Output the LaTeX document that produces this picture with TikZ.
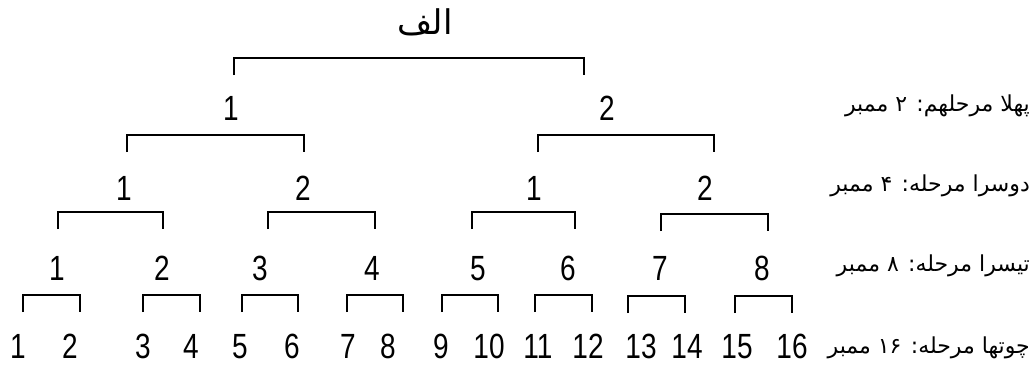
\documentclass[tikz,border=0pt]{standalone}
\usepackage{fontspec}
\TeXXeTstate=1
\newfontfamily\urdu[Script=Arabic]{DejaVu Sans}
\newfontfamily\digitfont[FakeStretch=0.8]{Liberation Sans}
\newcommand\brk[4]{%
  \coordinate (#1a) at (#2,#4+17);
  \coordinate (#1b) at (#3,#4+17);
  \draw[br] (#1a) -- ++(0,-17) -| (#1b);}
\begin{document}
\begin{tikzpicture}[x=1pt,y=-1pt,
  num/.style={font=\digitfont\fontsize{35}{35}\selectfont, inner sep=0pt, anchor=base},
  lab/.style={font=\urdu\fontsize{22}{26}\selectfont, inner sep=0pt, anchor=east},
  br/.style={line width=1.6pt}]
\useasboundingbox (0,0) rectangle (1034,375);
% title
\node[font=\urdu\fontsize{34}{36}\selectfont, inner sep=0pt] (root) at (425,22) {\beginR الف\endR};
\brk{t}{234}{584}{58}
% level 1
\node[num] (a1) at (231,120) {1};
\node[num] (a2) at (607,120) {2};
\brk{p1}{127}{304}{135}
\brk{p2}{538}{714}{135}
% level 2
\node[num] (b1) at (124,200) {1};
\node[num] (b2) at (303,200) {2};
\node[num] (b3) at (534,200) {1};
\node[num] (b4) at (705,200) {2};
\brk{q1}{58}{163}{212}
\brk{q2}{268}{375}{212}
\brk{q3}{472}{575}{212}
\brk{q4}{661}{768}{214}
% level 3
\node[num] (c1) at (57,280) {1};
\node[num] (c2) at (162,280) {2};
\node[num] (c3) at (260,280) {3};
\node[num] (c4) at (372,280) {4};
\node[num] (c5) at (478,280) {5};
\node[num] (c6) at (568,280) {6};
\node[num] (c7) at (660,280) {7};
\node[num] (c8) at (762,280) {8};
\brk{r1}{23}{80}{295}
\brk{r2}{143}{200}{295}
\brk{r3}{242}{298}{295}
\brk{r4}{347}{403}{295}
\brk{r5}{442}{498}{295}
\brk{r6}{535}{592}{295}
\brk{r7}{628}{685}{296}
\brk{r8}{735}{792}{296}
% level 4
\node[num] (d1) at (18,358) {1};
\node[num] (d2) at (70,358) {2};
\node[num] (d3) at (143,358) {3};
\node[num] (d4) at (191,358) {4};
\node[num] (d5) at (240,358) {5};
\node[num] (d6) at (292,358) {6};
\node[num] (d7) at (348,358) {7};
\node[num] (d8) at (388,358) {8};
\node[num] (d9) at (441,358) {9};
\node[num] (d10) at (489,358) {10};
\node[num] (d11) at (538,358) {11};
\node[num] (d12) at (588,358) {12};
\node[num] (d13) at (641,358) {13};
\node[num] (d14) at (687,358) {14};
\node[num] (d15) at (737,358) {15};
\node[num] (d16) at (792,358) {16};
% row labels
\node[lab] (l1) at (1030,106) {\beginR پهلا مرحلهم: ۲ ممبر\endR};
\node[lab] (l2) at (1030,186) {\beginR دوسرا مرحله: ۴ ممبر\endR};
\node[lab] (l3) at (1030,266) {\beginR تیسرا مرحله: ۸ ممبر\endR};
\node[lab] (l4) at (1030,348) {\beginR چوتھا مرحله: ۱۶ ممبر\endR};
\end{tikzpicture}
\end{document}
